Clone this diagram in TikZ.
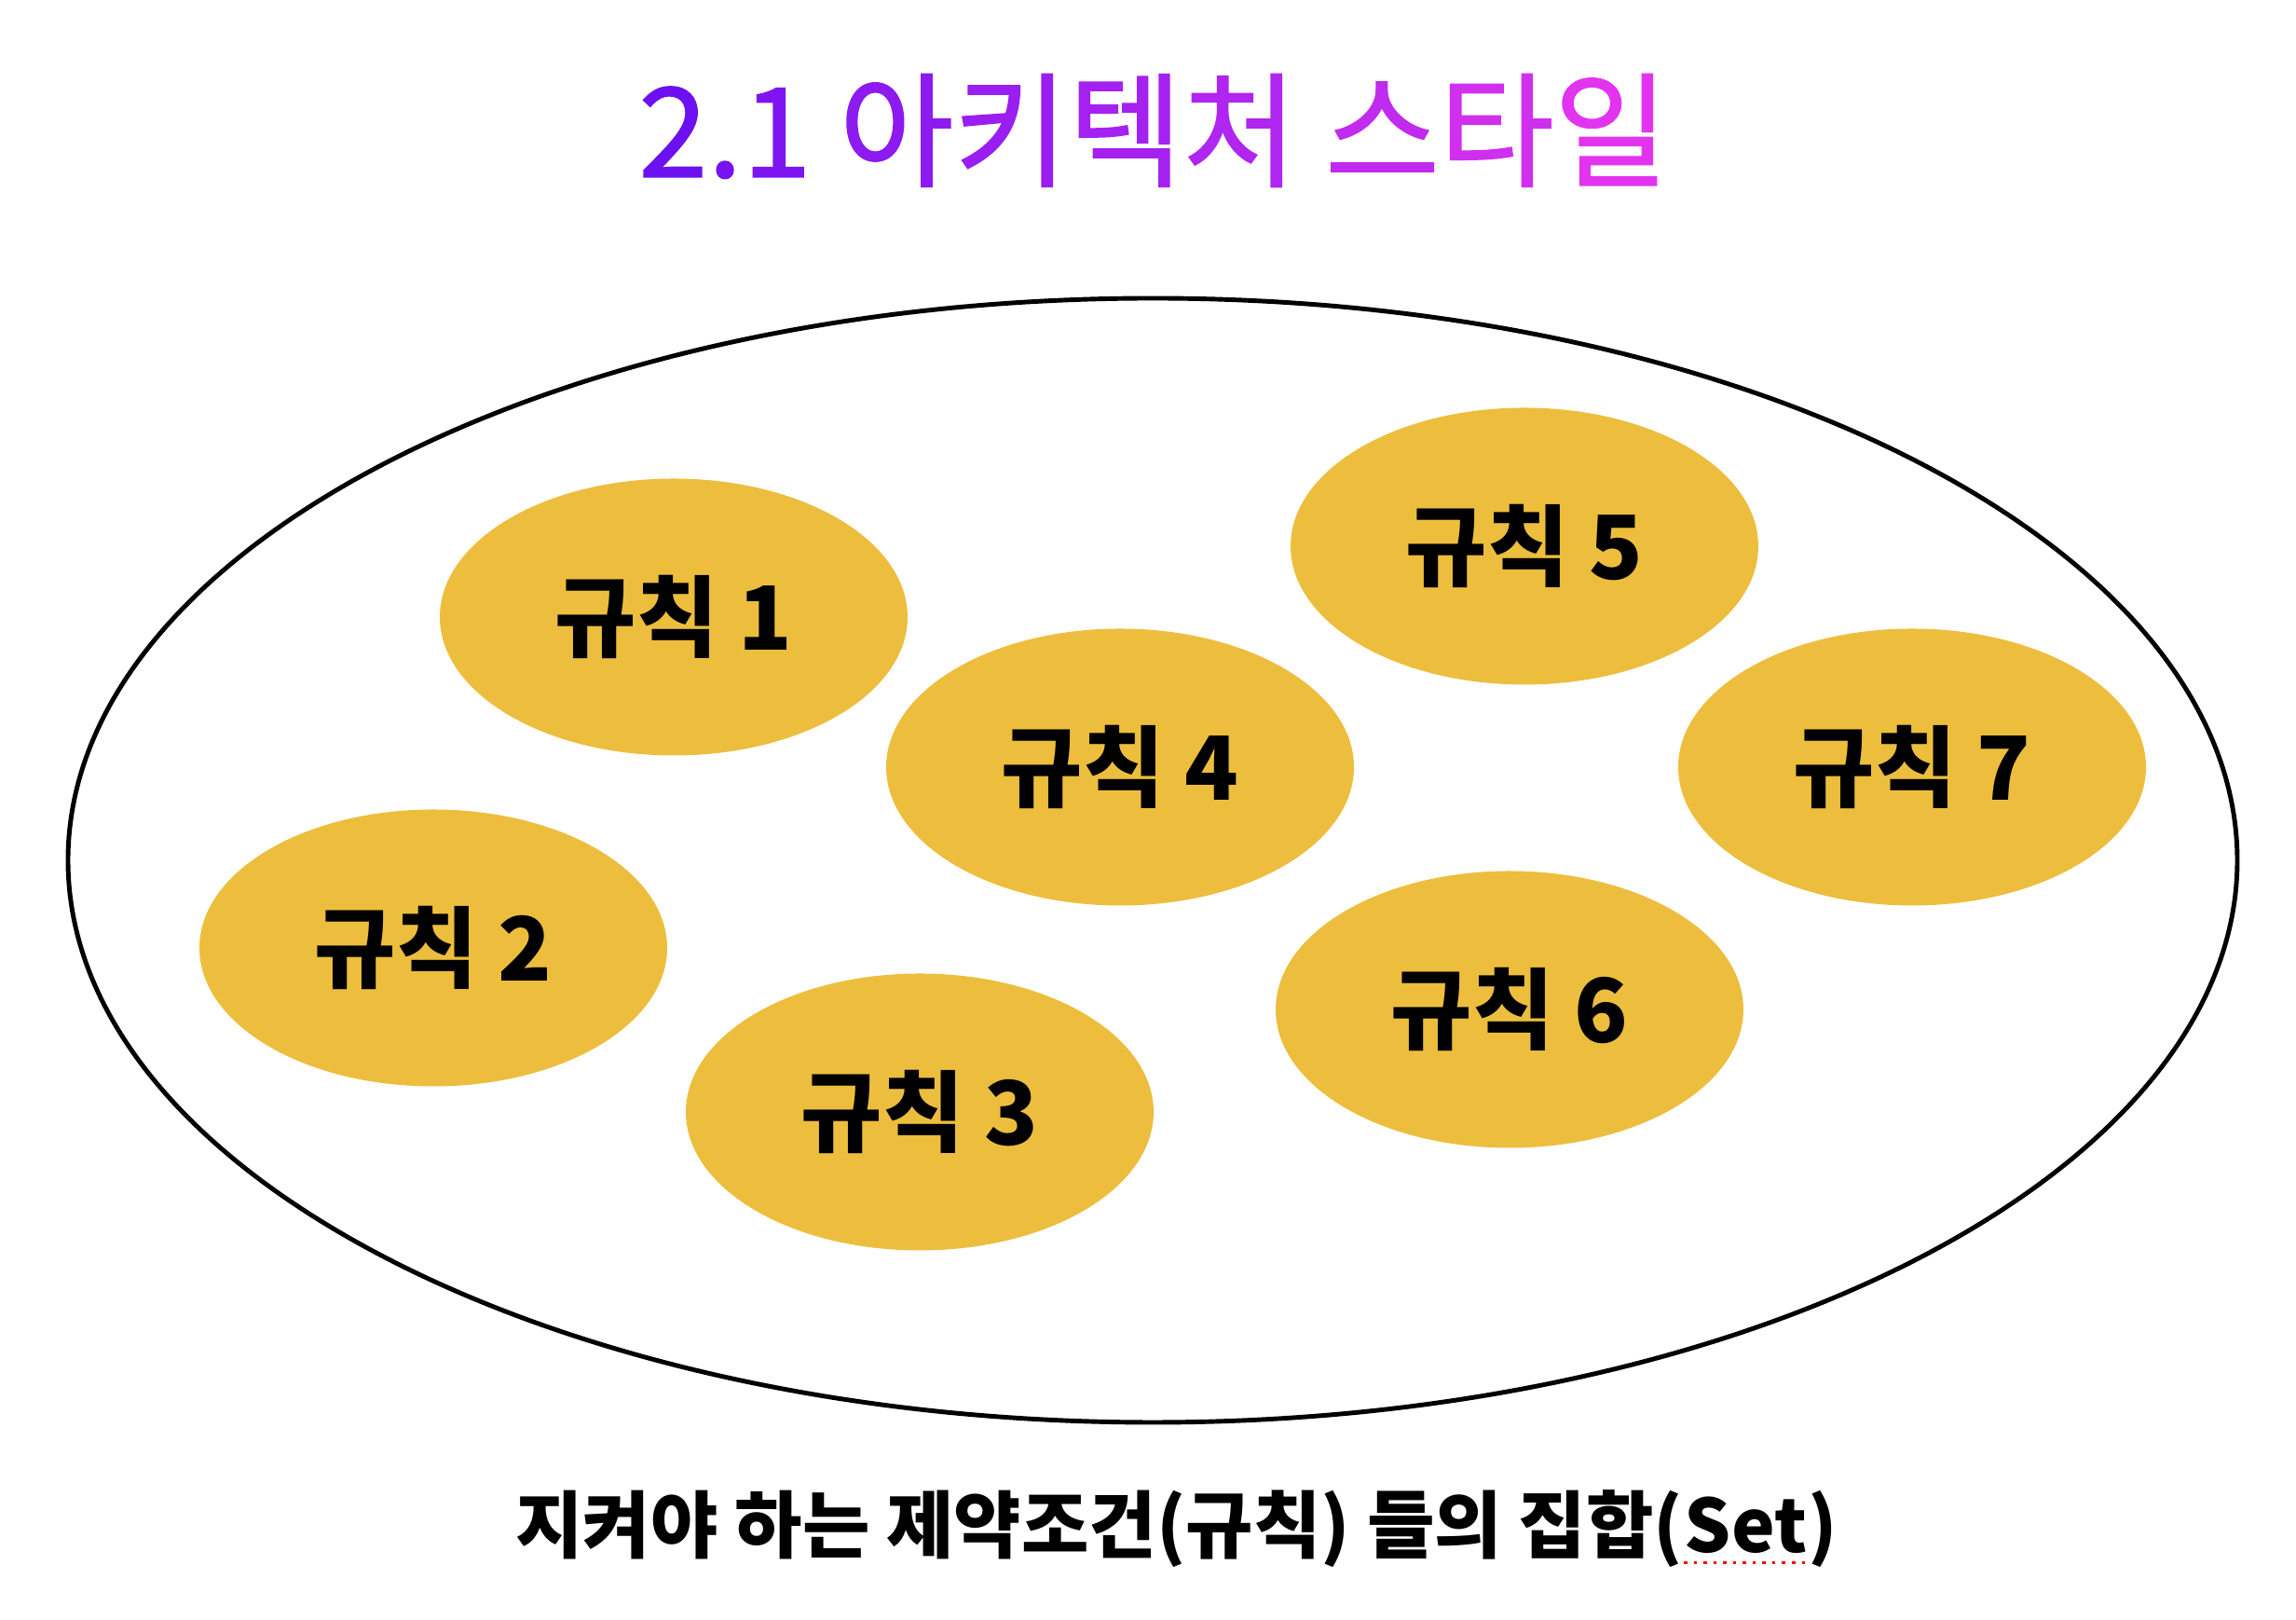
\documentclass[tikz,border=0pt]{standalone}
\usepackage{fontspec}
\setmainfont{Noto Sans CJK KR}
\newfontfamily\titlefont[FakeBold=1.2]{Noto Sans CJK KR}
\usetikzlibrary{shapes.geometric}

\definecolor{ruleyellow}{RGB}{237,190,61}
\definecolor{titlea}{RGB}{108,16,240}
\definecolor{titleb}{RGB}{226,52,238}
\newcommand{\tcol}[2]{\textcolor{titleb!#1!titlea}{#2}}

\begin{document}
\begin{tikzpicture}[
    rule/.style={ellipse, fill=ruleyellow, minimum width=5.02cm, minimum height=2.97cm,
      inner sep=0pt, font=\fontsize{27}{32}\selectfont\bfseries},
    caption/.style={inner sep=0pt, font=\fontsize{22.4}{27}\selectfont\bfseries},
  ]
    \useasboundingbox (0,0) rectangle (24.64,17.38);

    % Title
    \node[font=\titlefont\fontsize{38}{45}\selectfont] (title) at (12.38,15.98)
      {\tcol{0}{2}\tcol{8}{.}\tcol{15}{1} \tcol{28}{아}\tcol{38}{키}\tcol{48}{텍}\tcol{58}{처}
       \tcol{72}{스}\tcol{85}{타}\tcol{100}{일}};

    % Outer set
    \node[draw, line width=1.4pt, ellipse, minimum width=23.28cm, minimum height=12.06cm]
      (set) at (12.37,8.15) {};

    % Rules
    \node[rule] (rule1) at (7.23,10.76) {규칙 1};
    \node[rule] (rule2) at (4.65,7.21) {규칙 2};
    \node[rule] (rule3) at (9.87,5.45) {규칙 3};
    \node[rule] (rule4) at (12.02,9.15) {규칙 4};
    \node[rule] (rule5) at (16.36,11.52) {규칙 5};
    \node[rule] (rule6) at (16.20,6.55) {규칙 6};
    \node[rule] (rule7) at (20.52,9.15) {규칙 7};

    % Caption
    \node[caption, anchor=base west] (capset) at (18.07,0.72) {Set};
    \node[caption, anchor=base east] (capa) at (capset.base west) {지켜야 하는 제약조건(규칙) 들의 집합(};
    \node[caption, anchor=base west] (capb) at (capset.base east) {)};
    \draw[red, dotted, line width=1pt] ([yshift=-3pt]capset.base west) -- ([yshift=-3pt]capset.base east);
\end{tikzpicture}
\end{document}
